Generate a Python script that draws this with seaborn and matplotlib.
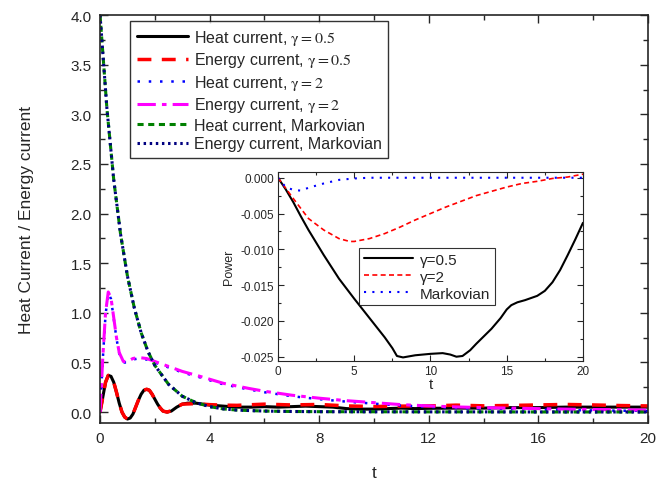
import matplotlib
matplotlib.use("Agg")
import matplotlib.pyplot as plt
from matplotlib.ticker import MultipleLocator, FuncFormatter
import seaborn as sns
import pandas as pd

# ---- main panel data ----
t_heat05 = [0, 0.1, 0.2, 0.3, 0.4, 0.5, 0.6, 0.7, 0.8, 0.9, 1.0, 1.1, 1.2, 1.3, 1.4, 1.5,
            1.6, 1.7, 1.8, 1.9, 2.0, 2.1, 2.2, 2.3, 2.45, 2.6, 2.8, 3.0, 3.2, 3.5, 4.0, 4.5,
            5, 5.5, 6, 6.5, 7, 7.5, 8, 8.5, 9, 9.5, 10, 10.5, 11, 11.5, 12, 13, 14, 15, 16,
            17, 18, 19, 20]
heat05 = [0.0, 0.15, 0.3, 0.37, 0.36, 0.3, 0.2, 0.09, 0.0, -0.05, -0.07, -0.06, -0.02, 0.05,
          0.12, 0.18, 0.22, 0.23, 0.22, 0.18, 0.13, 0.08, 0.04, 0.01, 0.0, 0.01, 0.05, 0.08,
          0.09, 0.09, 0.07, 0.06, 0.05, 0.05, 0.055, 0.05, 0.055, 0.06, 0.055, 0.05, 0.035,
          0.03, 0.03, 0.035, 0.04, 0.035, 0.038, 0.04, 0.04, 0.045, 0.045, 0.05, 0.05, 0.05,
          0.05]

t_energy05 = [0, 0.1, 0.2, 0.3, 0.4, 0.5, 0.6, 0.7, 0.8, 0.9, 1.0, 1.1, 1.2, 1.3, 1.4, 1.5,
              1.6, 1.7, 1.8, 1.9, 2.0, 2.1, 2.2, 2.3, 2.45, 2.6, 2.8, 3.0, 3.5, 4.0, 4.5, 5,
              6, 7, 8, 9, 10, 11, 12, 13, 14, 15, 16, 17, 18, 19, 20]
energy05 = [0.0, 0.15, 0.3, 0.37, 0.36, 0.3, 0.2, 0.09, 0.0, -0.05, -0.07, -0.06, -0.02, 0.05,
            0.12, 0.18, 0.22, 0.23, 0.22, 0.18, 0.13, 0.08, 0.04, 0.01, 0.0, 0.015, 0.05, 0.08,
            0.085, 0.075, 0.07, 0.068, 0.08, 0.072, 0.077, 0.062, 0.056, 0.06, 0.062, 0.07,
            0.063, 0.067, 0.072, 0.077, 0.072, 0.066, 0.062]

t_g2 = [0, 0.1, 0.2, 0.3, 0.4, 0.5, 0.6, 0.7, 0.85, 1.0, 1.2, 1.4, 1.7, 2.0, 2.5, 3.0, 3.65,
        4.5, 5.4, 6, 7, 8, 9, 10, 11, 12, 13, 14, 15, 16, 17, 18, 19, 20]
energy2 = [0.0, 0.55, 1.0, 1.21, 1.15, 0.95, 0.75, 0.6, 0.51, 0.51, 0.54, 0.55, 0.54, 0.51,
           0.46, 0.41, 0.36, 0.29, 0.24, 0.21, 0.17, 0.14, 0.115, 0.095, 0.075, 0.062, 0.052,
           0.045, 0.04, 0.035, 0.03, 0.026, 0.023, 0.02]
heat2 = [0.0, 0.53, 0.98, 1.2, 1.14, 0.94, 0.74, 0.59, 0.5, 0.5, 0.53, 0.54, 0.53, 0.5,
         0.45, 0.4, 0.35, 0.28, 0.23, 0.2, 0.16, 0.13, 0.105, 0.085, 0.065, 0.052, 0.042,
         0.035, 0.03, 0.025, 0.02, 0.017, 0.014, 0.012]

t_mark = [0, 0.25, 0.5, 0.75, 1.0, 1.25, 1.5, 1.75, 2.0, 2.5, 3.0, 3.5, 4.0, 4.5, 5, 6, 7,
          8, 10, 12, 14, 16, 18, 20]
heat_mark = [4.0, 3.06, 2.34, 1.79, 1.37, 1.05, 0.80, 0.61, 0.47, 0.28, 0.16, 0.095, 0.055,
             0.032, 0.02, 0.01, 0.006, 0.004, 0.003, 0.002, 0.002, 0.001, 0.001, 0.001]
energy_mark = [4.0, 3.06, 2.34, 1.79, 1.37, 1.05, 0.80, 0.61, 0.47, 0.28, 0.16, 0.095, 0.055,
               0.032, 0.02, 0.01, 0.006, 0.004, 0.003, 0.002, 0.002, 0.001, 0.001, 0.001]

# ---- inset (power) data ----
t_p05 = [0, 0.5, 1, 1.5, 2, 3, 4, 5, 6, 7, 7.5, 7.8, 8.2, 9, 10, 10.8, 11.3, 11.7, 12.1,
         12.6, 13, 14, 14.6, 15, 15.3, 15.7, 16.2, 17, 17.5, 18, 18.5, 19, 19.5, 20]
power05 = [0.0, -0.0016, -0.0034, -0.0054, -0.0073, -0.0108, -0.0141, -0.0169, -0.0196,
           -0.0223, -0.0238, -0.0249, -0.0251, -0.0248, -0.0246, -0.0245, -0.0247, -0.025,
           -0.0249, -0.0241, -0.0232, -0.0211, -0.0196, -0.0184, -0.0178, -0.0174, -0.0171,
           -0.0165, -0.0158, -0.0146, -0.0129, -0.0108, -0.0086, -0.0063]
t_p2 = [0, 1, 2, 3, 4, 4.7, 5, 6, 7, 8, 9, 10, 11, 12, 13, 14, 15, 16, 17, 18, 19, 20]
power2 = [0.0, -0.0029, -0.0057, -0.0073, -0.0085, -0.0089, -0.0089, -0.0085, -0.0078,
          -0.0069, -0.0059, -0.005, -0.0041, -0.0033, -0.0025, -0.0019, -0.0013, -0.0008,
          -0.0005, -0.0001, 0.0001, 0.0005]
t_pm = [0, 0.5, 1, 1.5, 2, 3, 4, 5, 6, 8, 10, 12, 14, 16, 18, 20]
power_mark = [0.0, -0.0013, -0.0017, -0.0018, -0.0014, -0.0008, -0.0003, -0.0001, 0.0, 0.0,
              0.0, 0.0, 0.0, 0.0, 0.0, 0.0]

sns.set_style("ticks")
plt.rcParams['font.family'] = ['Liberation Sans', 'DejaVu Sans']
plt.rcParams['mathtext.fontset'] = 'stix'
plt.rcParams['axes.unicode_minus'] = False
plt.rcParams['xtick.direction'] = 'in'
plt.rcParams['ytick.direction'] = 'in'

fig = plt.figure(figsize=(6.67, 4.81), dpi=100)
ax = fig.add_axes([0.15, 0.1185, 0.8215, 0.848])


def draw(a, x, y, label, **kw):
    df = pd.DataFrame({'t': x, 'v': y})
    sns.lineplot(data=df, x='t', y='v', ax=a, label=label, estimator=None, sort=False, **kw)


draw(ax, t_heat05, heat05, r"Heat current, $\mathrm{\gamma=0.5}$", color='black', lw=2.2)
draw(ax, t_energy05, energy05, r"Energy current, $\mathrm{\gamma=0.5}$", color='red', lw=2.5,
     dashes=(4, 3))
draw(ax, t_g2, heat2, r"Heat current, $\mathrm{\gamma=2}$", color='blue', lw=1.8,
     dashes=(1, 3.5))
draw(ax, t_g2, energy2, r"Energy current, $\mathrm{\gamma=2}$", color='magenta', lw=2.2,
     dashes=(6, 2, 1.5, 2))
draw(ax, t_mark, heat_mark, "Heat current, Markovian", color='green', lw=2.2, dashes=(2, 1.5))
draw(ax, t_mark, energy_mark, "Energy current, Markovian", color='navy', lw=2.2,
     dashes=(0.8, 1.2))

ax.set_xlim(0, 20)
ax.set_ylim(-0.11, 4.0)
ax.xaxis.set_major_locator(MultipleLocator(4))
ax.xaxis.set_minor_locator(MultipleLocator(2))
ax.yaxis.set_major_locator(MultipleLocator(0.5))
ax.yaxis.set_minor_locator(MultipleLocator(0.25))
ax.tick_params(which='both', top=True, right=True, labelsize=11, width=1, pad=6)
ax.tick_params(which='major', length=6)
ax.tick_params(which='minor', length=3.5)
ax.yaxis.set_major_formatter(FuncFormatter(lambda v, p: f"{round(v, 3) + 0.0:.1f}"))
for s in ax.spines.values():
    s.set_linewidth(1.2)
ax.set_xlabel('t', fontsize=12.5, labelpad=14)
ax.set_ylabel('Heat Current / Energy current', fontsize=12.5, labelpad=26)

leg = ax.legend(loc='upper left', bbox_to_anchor=(0.055, 0.985), borderaxespad=0,
                fontsize=11.5, frameon=True, fancybox=False, edgecolor='black',
                handlelength=3.2, labelspacing=0.22, borderpad=0.4, handletextpad=0.4)
leg.get_frame().set_linewidth(1)

# ---- inset ----
ins = fig.add_axes([0.4168, 0.2474, 0.4572, 0.3929])
draw(ins, t_p05, power05, "\u03b3=0.5", color='black', lw=1.5)
draw(ins, t_p2, power2, "\u03b3=2", color='red', lw=1.2, dashes=(3, 2))
draw(ins, t_pm, power_mark, "Markovian", color='blue', lw=1.5, dashes=(1, 3))
ins.set_xlim(0, 20)
ins.set_ylim(-0.0256, 0.0008)
ins.xaxis.set_major_locator(MultipleLocator(5))
ins.xaxis.set_minor_locator(MultipleLocator(2.5))
ins.yaxis.set_major_locator(MultipleLocator(0.005))
ins.yaxis.set_minor_locator(MultipleLocator(0.0025))
ins.yaxis.set_major_formatter(FuncFormatter(lambda v, p: f"{round(v, 6) + 0.0:.3f}"))
ins.tick_params(which='both', top=True, right=True, labelsize=8.5, width=0.8, pad=3)
ins.tick_params(which='major', length=4)
ins.tick_params(which='minor', length=2.5)
ins.set_xlabel('t', fontsize=11, labelpad=0)
ins.set_ylabel('Power', fontsize=9, labelpad=4)
leg2 = ins.legend(loc='upper left', bbox_to_anchor=(0.266, 0.598), borderaxespad=0,
                  fontsize=11, frameon=True, fancybox=False, edgecolor='black',
                  handlelength=3.2, labelspacing=0.2, borderpad=0.3, handletextpad=0.5)
leg2.get_frame().set_linewidth(0.8)

fig.savefig('out.png', dpi=100)
